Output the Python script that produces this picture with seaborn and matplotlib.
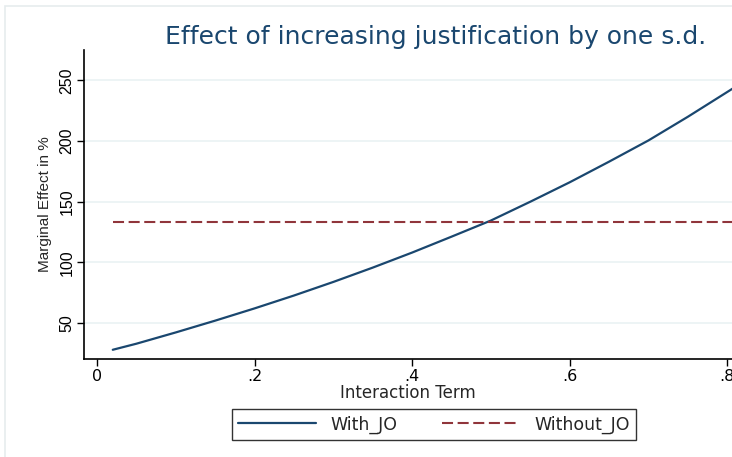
import pandas as pd
import seaborn as sns
import matplotlib.pyplot as plt
from matplotlib.lines import Line2D

# values
interaction = [0.02, 0.05, 0.1, 0.15, 0.2, 0.25, 0.3, 0.35, 0.4, 0.45,
               0.5, 0.55, 0.6, 0.65, 0.7, 0.75, 0.81]
with_jo = [28.0, 33.0, 42.3, 52.0, 62.1, 72.7, 83.9, 95.7, 108.1, 121.2,
           134.5, 150.0, 166.0, 183.0, 200.5, 220.0, 244.5]
without_jo = [133.5] * len(interaction)

x_ticks = [0, 0.2, 0.4, 0.6, 0.8]
x_tick_labels = ['0', '.2', '.4', '.6', '.8']
y_ticks = [50, 100, 150, 200, 250]

navy = '#1a476f'
maroon = '#90353b'
wide = ['DejaVu Sans']
narrow = ['Liberation Sans', 'DejaVu Sans']

df = pd.DataFrame({'x': interaction, 'With_JO': with_jo, 'Without_JO': without_jo})

sns.set_style('white')
plt.rcParams['font.family'] = narrow

fig = plt.figure(figsize=(7.32, 4.57), dpi=100)
fig.patch.set_facecolor('white')
# faint outer frame like the Stata graph region
fig.add_artist(plt.Rectangle((5 / 732, -0.05), 1.1, 1.05 - 6 / 457, transform=fig.transFigure,
                             fill=False, edgecolor='#e6ecee', lw=1.2))

ax = fig.add_axes([84 / 732, 98 / 457, (732 - 84) / 732, (359 - 50) / 457])
sns.lineplot(data=df, x='x', y='With_JO', ax=ax, color=navy, lw=1.6)
sns.lineplot(data=df, x='x', y='Without_JO', ax=ax, color=maroon, lw=1.5)
ax.lines[1].set_dashes((5.3, 2.2))

ax.set_xlim(-0.0165, 0.806)
ax.set_ylim(20.4, 275)
ax.set_xticks(x_ticks)
ax.set_xticklabels(x_tick_labels, family=wide, fontsize=11.5)
ax.set_yticks(y_ticks)
ax.set_yticklabels([str(v) for v in y_ticks], rotation=90, va='center',
                   fontsize=11.5, family=narrow)
ax.grid(axis='y', color='#eaf2f3', lw=1.2)
ax.grid(axis='x', visible=False)

for s in ['top', 'right']:
    ax.spines[s].set_visible(False)
for s in ['left', 'bottom']:
    ax.spines[s].set_color('black')
    ax.spines[s].set_linewidth(1.2)

ax.tick_params(axis='both', which='major', direction='out', length=5, width=1,
               color='black', labelcolor='black', pad=2, bottom=True, left=True)

ax.set_xlabel('Interaction Term', fontsize=12, labelpad=0, family=wide)
ax.set_ylabel('Marginal Effect in %', fontsize=11, labelpad=5)

fig.text(436 / 732, 1 - 37 / 457, 'Effect of increasing justification by one s.d.',
         ha='center', va='center', fontsize=18, color=navy, family=wide)

handles = [Line2D([], [], color=navy, lw=1.6),
           Line2D([], [], color=maroon, lw=1.5, dashes=(5.3, 2.2))]
leg = fig.legend(handles, ['With_JO', 'Without_JO'], loc='center',
                 bbox_to_anchor=(434 / 732, 1 - 424.5 / 457), ncol=2,
                 prop={'family': wide, 'size': 12.5},
                 frameon=True, fancybox=False, edgecolor='black', handlelength=4.5,
                 columnspacing=2.6, handletextpad=0.8, borderpad=0.35, borderaxespad=0)
leg.get_frame().set_linewidth(1.0)

fig.savefig('out.png', dpi=100)
